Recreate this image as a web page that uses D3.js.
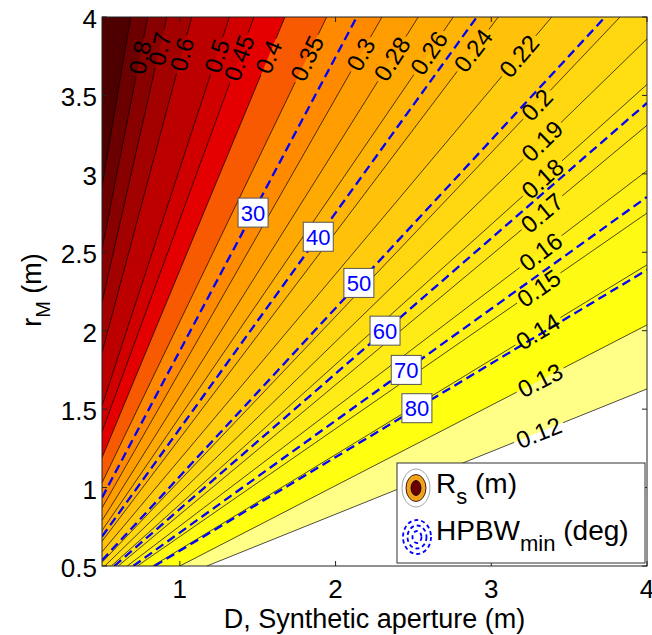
<!DOCTYPE html>
<html>
<head>
<meta charset="utf-8">
<script src="https://cdn.jsdelivr.net/npm/d3@7"></script>
<style>
body { margin: 0; background: #fff; }
text { font-family: "Liberation Sans", Arial, Helvetica, sans-serif; }
</style>
</head>
<body>
<div id="chart"></div>
<script>
// Rs (m) contour levels, low to high
var rsLevels = [0.12, 0.13, 0.14, 0.15, 0.16, 0.17, 0.18, 0.19, 0.2, 0.22, 0.24,
                0.26, 0.28, 0.3, 0.35, 0.4, 0.45, 0.5, 0.6, 0.7, 0.8, 0.9];
// where each Rs line enters (lower left) and leaves (upper right) the plot, [D, rM]
var rsFrom = [[1.174, 0.5], [1.0, 0.5], [0.826, 0.5], [0.727, 0.5], [0.662, 0.5],
              [0.604, 0.5], [0.56, 0.5], [0.518, 0.5], [0.5, 0.523], [0.5, 0.59],
              [0.5, 0.657], [0.5, 0.726], [0.5, 0.79], [0.5, 0.87], [0.5, 1.03],
              [0.5, 1.19], [0.5, 1.355], [0.5, 1.52], [0.5, 1.86], [0.5, 2.18],
              [0.5, 2.52], [0.5, 2.92]];
var rsTo = [[4, 1.629], [4, 2.037], [4, 2.42], [4, 2.75], [4, 3.02],
            [4, 3.31], [4, 3.57], [4, 3.86], [3.827, 4], [3.388, 4],
            [3.045, 4], [2.756, 4], [2.531, 4], [2.298, 4], [1.943, 4],
            [1.675, 4], [1.476, 4], [1.318, 4], [1.076, 4], [0.916, 4],
            [0.794, 4], [0.684, 4]];
// where the inline labels sit, [D, rM] (the 0.9 line has none)
var rsLabelAt = [[3.313, 1.329], [3.313, 1.686], [3.313, 1.973], [3.313, 2.26], [3.313, 2.508],
                 [3.32, 2.757], [3.32, 2.98], [3.32, 3.216], [3.313, 3.42], [3.191, 3.739],
                 [2.896, 3.777], [2.619, 3.758], [2.382, 3.72], [2.202, 3.739], [1.849, 3.72],
                 [1.585, 3.739], [1.399, 3.732], [1.258, 3.745], [1.027, 3.758], [0.872, 3.796],
                 [0.731, 3.745], null];

// HPBW_min (deg) dashed contours
var hpbwLevels = [30, 40, 50, 60, 70, 80];
var hpbwFrom = [[0.5, 0.936], [0.5, 0.688], [0.5, 0.536], [0.579, 0.5], [0.701, 0.5], [0.837, 0.5]];
var hpbwTo = [[2.136, 4], [2.907, 4], [3.731, 4], [4, 3.452], [4, 2.853], [4, 2.388]];
var hpbwLabelAt = [[1.476, 2.75], [1.9, 2.591], [2.157, 2.298], [2.318, 2.0], [2.459, 1.743], [2.529, 1.495]];

var xTicks = [1, 2, 3, 4];
var yTicks = [0.5, 1, 1.5, 2, 2.5, 3, 3.5, 4];

// fill of each band: below 0.12, 0.12-0.13, ..., above 0.9
var bandColors = ["#ffffff", "#ffff88", "#ffff10", "#fffa14", "#fff316", "#ffec16",
                  "#ffe514", "#ffde12", "#ffd710", "#ffcd0e", "#ffc10a", "#ffb506",
                  "#ffaa02", "#ff9d00", "#ff8a00", "#f75a00", "#e40000", "#d00000",
                  "#bc0000", "#a30000", "#880000", "#6c0000", "#4e0000"];

var W = 652, H = 635;
var x = d3.scaleLinear().domain([0.5, 4]).range([102, 647]);
var y = d3.scaleLinear().domain([0.5, 4]).range([566, 17]);
var color = d3.scaleThreshold().domain(rsLevels).range(bandColors);

var svg = d3.select("#chart").append("svg")
    .attr("width", W)
    .attr("height", H);

svg.append("clipPath").attr("id", "plotclip")
  .append("rect")
    .attr("x", x(0.5)).attr("y", y(4))
    .attr("width", x(4) - x(0.5)).attr("height", y(0.5) - y(4));

var plot = svg.append("g").attr("clip-path", "url(#plotclip)");

plot.append("rect")
    .attr("x", x(0.5)).attr("y", y(4))
    .attr("width", x(4) - x(0.5)).attr("height", y(0.5) - y(4))
    .attr("fill", color(0));

// region above a straight contour line, as a big triangle (clipped to the axes)
function above(a, b) {
    var dx = b[0] - a[0], dy = b[1] - a[1];
    var a2 = [a[0] - 10 * dx, a[1] - 10 * dy];
    var b2 = [b[0] + 10 * dx, b[1] + 10 * dy];
    return [a2, b2, [a2[0], b2[1]]];
}

var toPx = function(p) { return [x(p[0]), y(p[1])]; };

plot.selectAll("path.band").data(rsLevels).enter()
  .append("path")
    .attr("class", "band")
    .attr("d", function(d, i) {
        return "M" + above(rsFrom[i], rsTo[i]).map(toPx).join("L") + "Z";
    })
    .attr("fill", function(d) { return color(d); });

// screen geometry of a line and the point of it nearest to a label spot
function onLine(a, b, p) {
    var A = toPx(a), B = toPx(b), P = toPx(p);
    var dx = B[0] - A[0], dy = B[1] - A[1];
    var len = Math.sqrt(dx * dx + dy * dy);
    var ux = dx / len, uy = dy / len;
    var t = (P[0] - A[0]) * ux + (P[1] - A[1]) * uy;
    return {A: A, B: B, ux: ux, uy: uy, len: len, t: t,
            L: [A[0] + t * ux, A[1] + t * uy],
            angle: Math.atan2(dy, dx) * 180 / Math.PI};
}

var lineLayer = plot.append("g");
var labelLayer = svg.append("g");

// thin black Rs lines, broken where the label is
rsLevels.forEach(function(level, i) {
    if (!rsLabelAt[i]) {
        lineLayer.append("path")
            .attr("d", d3.line()([toPx(rsFrom[i]), toPx(rsTo[i])]))
            .attr("stroke", "#000").attr("stroke-width", 0.7).attr("fill", "none");
        return;
    }
    var g = onLine(rsFrom[i], rsTo[i], rsLabelAt[i]);
    var t = labelLayer.append("text")
        .attr("transform", "translate(" + g.L[0] + "," + g.L[1] + ") rotate(" + g.angle + ")")
        .attr("text-anchor", "middle")
        .attr("dy", "0.36em")
        .attr("font-size", 24)
        .attr("fill", "#000")
        .text(String(level));
    var half = t.node().getComputedTextLength() / 2 + 3;
    var segs = [[0, g.t - half], [g.t + half, g.len]];
    segs.forEach(function(s) {
        lineLayer.append("path")
            .attr("d", d3.line()([[g.A[0] + s[0] * g.ux, g.A[1] + s[0] * g.uy],
                                  [g.A[0] + s[1] * g.ux, g.A[1] + s[1] * g.uy]]))
            .attr("stroke", "#000").attr("stroke-width", 0.7).attr("fill", "none");
    });
});

// dashed HPBW lines
plot.selectAll("path.hpbw").data(hpbwLevels).enter()
  .append("path")
    .attr("class", "hpbw")
    .attr("d", function(d, i) { return d3.line()([toPx(hpbwFrom[i]), toPx(hpbwTo[i])]); })
    .attr("stroke", "#0000ff")
    .attr("stroke-width", 2.3)
    .attr("stroke-dasharray", "9,5")
    .attr("fill", "none");

hpbwLevels.forEach(function(level, i) {
    var g = onLine(hpbwFrom[i], hpbwTo[i], hpbwLabelAt[i]);
    labelLayer.append("rect")
        .attr("x", g.L[0] - 15).attr("y", g.L[1] - 14.5)
        .attr("width", 30).attr("height", 29)
        .attr("fill", "#fff").attr("stroke", "#555").attr("stroke-width", 1);
    labelLayer.append("text")
        .attr("x", g.L[0]).attr("y", g.L[1])
        .attr("dy", "0.36em")
        .attr("text-anchor", "middle")
        .attr("font-size", 22)
        .attr("fill", "#0000ff")
        .text(level);
});

// axes box and ticks
var axisG = svg.append("g");
axisG.append("rect")
    .attr("x", x(0.5)).attr("y", y(4))
    .attr("width", x(4) - x(0.5)).attr("height", y(0.5) - y(4))
    .attr("fill", "none").attr("stroke", "#222").attr("stroke-width", 1);

xTicks.forEach(function(v) {
    axisG.append("line").attr("x1", x(v)).attr("x2", x(v)).attr("y1", y(0.5)).attr("y2", y(0.5) - 5)
        .attr("stroke", "#222");
    axisG.append("line").attr("x1", x(v)).attr("x2", x(v)).attr("y1", y(4)).attr("y2", y(4) + 5)
        .attr("stroke", "#222");
    axisG.append("text")
        .attr("x", x(v)).attr("y", 598)
        .attr("text-anchor", "middle")
        .attr("font-size", 26)
        .text(v);
});

yTicks.forEach(function(v) {
    axisG.append("line").attr("x1", x(0.5)).attr("x2", x(0.5) + 5).attr("y1", y(v)).attr("y2", y(v))
        .attr("stroke", "#222");
    axisG.append("line").attr("x1", x(4)).attr("x2", x(4) - 5).attr("y1", y(v)).attr("y2", y(v))
        .attr("stroke", "#222");
    axisG.append("text")
        .attr("x", 97).attr("y", y(v) + 11)
        .attr("text-anchor", "end")
        .attr("font-size", 26)
        .text(v);
});

svg.append("text")
    .attr("x", (x(0.5) + x(4)) / 2).attr("y", 628)
    .attr("text-anchor", "middle")
    .attr("font-size", 27)
    .text("D, Synthetic aperture (m)");

var ylab = svg.append("text")
    .attr("transform", "translate(41,290) rotate(-90)")
    .attr("text-anchor", "middle")
    .attr("font-size", 27);
ylab.append("tspan").text("r");
ylab.append("tspan").attr("font-size", 20).attr("dy", 9).text("M");
ylab.append("tspan").attr("dy", -9).text(" (m)");

// legend
var leg = svg.append("g");
leg.append("rect")
    .attr("x", 397).attr("y", 463).attr("width", 248).attr("height", 100)
    .attr("fill", "#fff").attr("stroke", "#333").attr("stroke-width", 1);

leg.append("ellipse").attr("cx", 416).attr("cy", 488).attr("rx", 14).attr("ry", 19)
    .attr("fill", "#fff").attr("stroke", "#888").attr("stroke-width", 0.8);
leg.append("ellipse").attr("cx", 416).attr("cy", 488).attr("rx", 10).attr("ry", 13.5)
    .attr("fill", "#f4a018").attr("stroke", "#000").attr("stroke-width", 0.8);
leg.append("ellipse").attr("cx", 416).attr("cy", 488).attr("rx", 5).attr("ry", 7.5)
    .attr("fill", "#6b0000").attr("stroke", "#000").attr("stroke-width", 0.8);

[[14, 17], [9.5, 11.5], [4.5, 6]].forEach(function(r) {
    leg.append("ellipse").attr("cx", 417).attr("cy", 537).attr("rx", r[0]).attr("ry", r[1])
        .attr("fill", "none").attr("stroke", "#0000ff").attr("stroke-width", 1.8)
        .attr("stroke-dasharray", "4,3");
});

var l1 = leg.append("text").attr("x", 436).attr("y", 493).attr("font-size", 28);
l1.append("tspan").text("R");
l1.append("tspan").attr("font-size", 22).attr("dy", 11).text("s");
l1.append("tspan").attr("dy", -11).text(" (m)");

var l2 = leg.append("text").attr("x", 436).attr("y", 540).attr("font-size", 28);
l2.append("tspan").text("HPBW");
l2.append("tspan").attr("font-size", 22).attr("dy", 11).text("min");
l2.append("tspan").attr("dy", -11).text(" (deg)");
</script>
</body>
</html>
